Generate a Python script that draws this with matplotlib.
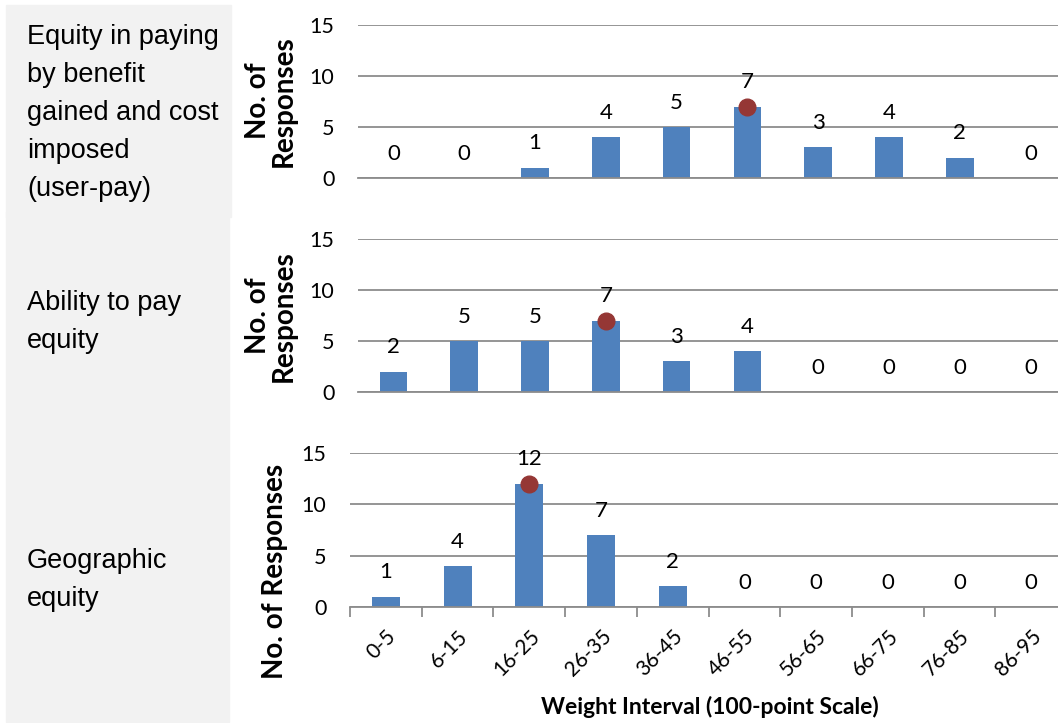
import matplotlib.pyplot as plt
from matplotlib.patches import Rectangle

# weight intervals and response counts for each equity criterion
intervals = ['0-5', '6-15', '16-25', '26-35', '36-45', '46-55', '56-65', '66-75', '76-85', '86-95']
user_pay = [0, 0, 1, 4, 5, 7, 3, 4, 2, 0]
ability_to_pay = [2, 5, 5, 7, 3, 4, 0, 0, 0, 0]
geographic = [1, 4, 12, 7, 2, 0, 0, 0, 0, 0]
criteria = ['Equity in paying\nby benefit\ngained and cost\nimposed\n(user-pay)',
            'Ability to pay\nequity',
            'Geographic\nequity']

W, H = 1058, 723
BLUE = '#4F81BD'
DOT = '#953735'
GRID = '#8C8C8C'

fig = plt.figure(figsize=(W / 100, H / 100), dpi=100)

def px(x0, y_top, x1, y_bot):
    return [x0 / W, 1 - y_bot / H, (x1 - x0) / W, (y_bot - y_top) / H]

# grey label column
fig.patches.append(Rectangle((6 / W, 1 - 217 / H), 225 / W, 212 / H,
                             transform=fig.transFigure, color='#F2F2F2', zorder=0))
fig.patches.append(Rectangle((6 / W, 1 - 722 / H), 223 / W, 510 / H,
                             transform=fig.transFigure, color='#F2F2F2', zorder=0))

boxes = [px(358, 25, 1066, 178), px(358, 239, 1066, 392), px(350, 453, 1067, 607)]
series = [user_pay, ability_to_pay, geographic]
label_y = [113, 322, 580]

for i, (box, vals) in enumerate(zip(boxes, series)):
    ax = fig.add_axes(box)
    x = list(range(len(intervals)))
    ax.bar(x, vals, width=0.39, color=BLUE, zorder=2)
    for xi, v in zip(x, vals):
        ax.annotate(str(v), (xi, v), xytext=(0, 17.5), textcoords='offset points',
                    ha='center', va='center', fontsize=16, family='Lato', color='black')
    peak = vals.index(max(vals))
    ax.plot(peak, vals[peak], 'o', color=DOT, markersize=12, zorder=3, clip_on=False)

    ax.set_xlim(-0.5, len(intervals) - 0.5)
    ax.set_ylim(0, 15)
    ax.set_yticks([0, 5, 10, 15])
    ax.grid(axis='y', color=GRID, linewidth=1.3, zorder=1)
    ax.set_axisbelow(True)
    for s in ['top', 'right', 'left']:
        ax.spines[s].set_visible(False)
    ax.spines['bottom'].set_color(GRID)
    ax.spines['bottom'].set_linewidth(1.3)
    ax.tick_params(axis='y', length=0, pad=17, labelsize=15.5)
    for t in ax.get_yticklabels():
        t.set_family('Lato')

    if i < 2:
        ax.set_xticks([])
        fig.text(271 / W, 1 - 101 / H if i == 0 else 1 - 316 / H, 'No. of\nResponses',
                 rotation=90, ha='center', va='center', fontsize=20,
                 fontweight='bold', family='Lato', linespacing=1.0)
    else:
        ax.set_xticks([k - 0.5 for k in range(len(intervals) + 1)], minor=False)
        ax.set_xticklabels([''] * (len(intervals) + 1))
        ax.tick_params(axis='x', length=7, color=GRID, width=1.3)
        ax.set_xticks(x, minor=True)
        ax.set_xticklabels(intervals, minor=True, rotation=45, fontsize=15,
                           family='Lato', ha='right', rotation_mode='anchor')
        ax.tick_params(axis='x', which='minor', length=0, pad=14)
        fig.text(275 / W, 1 - 571 / H, 'No. of Responses', rotation=90,
                 ha='center', va='center', fontsize=20, fontweight='bold', family='Lato')
        fig.text(710 / W, 1 - 707 / H, 'Weight Interval (100-point Scale)',
                 ha='center', va='center', fontsize=16.5, fontweight='bold', family='Lato')

    fig.text(27 / W, 1 - label_y[i] / H, criteria[i], ha='left', va='center',
             fontsize=19.5, family='Liberation Sans', linespacing=1.6)

fig.savefig('out.png', dpi=100)
